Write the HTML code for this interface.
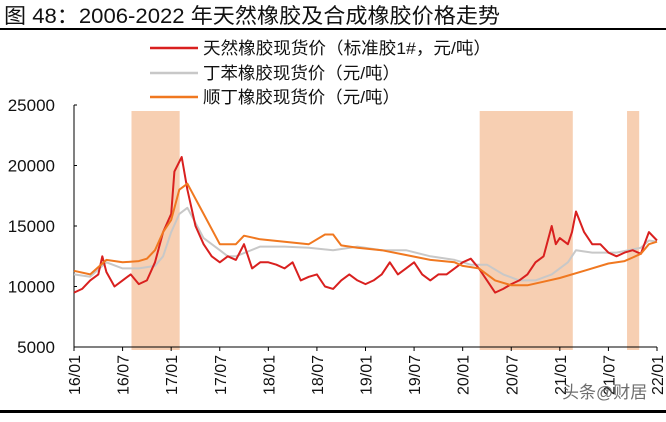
<!DOCTYPE html>
<html><head><meta charset="utf-8"><style>
body{margin:0;background:#fff;width:666px;height:417px;overflow:hidden;font-family:"Liberation Sans","Noto Sans CJK SC",sans-serif}
</style></head><body>
<svg width="666" height="417" xmlns="http://www.w3.org/2000/svg" font-family="Liberation Sans, Noto Sans CJK SC, sans-serif">
<text x="4" y="23" font-size="21" fill="#111" textLength="496" lengthAdjust="spacingAndGlyphs">图 48：2006-2022 年天然橡胶及合成橡胶价格走势</text>
<rect x="0" y="28" width="666" height="2" fill="#000"/>
<rect x="0" y="410" width="666" height="3" fill="#000"/>
<g id="shade"></g>
<g id="axes"></g>
<g id="lines"></g>
<g>
<line x1="150" y1="48" x2="198" y2="48" stroke="#d9201f" stroke-width="2.5"/>
<text x="203" y="54" font-size="17" fill="#111" textLength="288" lengthAdjust="spacingAndGlyphs">天然橡胶现货价（标准胶1#，元/吨）</text>
<line x1="150" y1="73" x2="198" y2="73" stroke="#c8c8c8" stroke-width="2.5"/>
<text x="203" y="79" font-size="17" fill="#111" textLength="197" lengthAdjust="spacingAndGlyphs">丁苯橡胶现货价（元/吨）</text>
<line x1="150" y1="97" x2="198" y2="97" stroke="#f07820" stroke-width="2.5"/>
<text x="203" y="103" font-size="17" fill="#111" textLength="197" lengthAdjust="spacingAndGlyphs">顺丁橡胶现货价（元/吨）</text>
</g>
<text x="562" y="398" font-size="17" fill="#555" opacity="0.85">头条@财居</text>
</svg>
<script>
const yTicks=[5000,10000,15000,20000,25000];
const xTickLabels=["16/01","16/07","17/01","17/07","18/01","18/07","19/01","19/07","20/01","20/07","21/01","21/07","22/01"];
const shadeRanges=[[7.1,13.05],[50.1,61.6],[68.3,69.8]];
const naturalMonths=[0,1,2,3,3.5,4,5,6,7,8,9,10,11,12,12.4,13.3,14,15,16,17,18,19,20,21,22,23,24,25,26,27,28,29,30,31,32,33,34,35,36,37,38,39,40,41,42,43,44,45,46,47,48,49,50,51,52,53,54,55,56,57,58,59,59.5,60,61,61.5,62,63,64,65,66,67,68,69,70,71,72];
const naturalValues=[9500,9800,10500,11000,12500,11200,10000,10500,11000,10200,10500,12000,14500,16000,19500,20700,18000,15000,13500,12500,12000,12500,12200,13500,11500,12000,12000,11800,11500,12000,10500,10800,11000,10000,9800,10500,11000,10500,10200,10500,11000,12000,11000,11500,12000,11000,10500,11000,11000,11500,12000,12300,11500,10500,9500,9800,10200,10500,11000,12000,12500,15000,13500,14000,13500,14500,16200,14500,13500,13500,12800,12500,12800,13000,12700,14500,13800,13600];
const sbrMonths=[0,2,4,6,8,10,11,12,13,14,16,18,19,20,23,26,29,32,35,38,41,44,47,49,51,53,55,57,59,61,62,64,67,70,71,72];
const sbrValues=[11000,10800,12000,11500,11500,11700,12500,14500,16000,16500,14000,13000,12500,12500,13300,13300,13200,13000,13300,13000,13000,12500,12200,11800,11800,11000,10500,10500,11000,12000,13000,12800,12800,13200,13800,13700];
const brMonths=[0,2,4,6,8,9,10,11,12,13,14,16,18,20,21,23,26,29,31,32,33,35,38,41,44,47,48,50,52,54,56,58,60,63,66,68,69,70,71,72];
const brValues=[11300,11000,12200,12000,12100,12300,13000,14500,15500,18000,18500,16000,13500,13500,14200,13900,13700,13500,14300,14300,13400,13200,13000,12600,12200,12000,11700,11500,10500,10100,10100,10400,10700,11300,11900,12100,12400,12700,13500,13700];
const X0=74,X1=657,Y0=347,Y1=105;
const xs=m=>X0+m*(X1-X0)/72;
const ys=v=>Y0-(v-5000)*(Y0-Y1)/20000;
const NS="http://www.w3.org/2000/svg";
function mk(tag,attrs,parent){const e=document.createElementNS(NS,tag);for(const k in attrs)e.setAttribute(k,attrs[k]);parent.appendChild(e);return e;}
const shade=document.getElementById('shade'),axes=document.getElementById('axes'),lines=document.getElementById('lines');
shadeRanges.forEach((r,i)=>{const e=mk('rect',{x:xs(r[0]),y:111,width:xs(r[1])-xs(r[0]),height:239,fill:'#f7cfb2'},shade);

});
let ax=mk('line',{x1:X0,y1:Y1,x2:X0,y2:Y0,stroke:'#000','stroke-width':1},axes);


let bx=mk('line',{x1:X0,y1:Y0,x2:X1,y2:Y0,stroke:'#000','stroke-width':1},axes);


yTicks.forEach(v=>{mk('line',{x1:X0,y1:ys(v),x2:X0+3,y2:ys(v),stroke:'#000'},axes);
const t=mk('text',{x:55,y:ys(v)+6,'text-anchor':'end','font-size':17,fill:'#111'},axes);t.textContent=v;

});
xTickLabels.forEach((l,i)=>{const x=xs(i*6);mk('line',{x1:x,y1:Y0,x2:x,y2:Y0+4,stroke:'#000'},axes);
const t=mk('text',{x:0,y:0,'text-anchor':'end','font-size':16,fill:'#111',transform:`translate(${x+6},${Y0+8}) rotate(-90)`},axes);t.textContent=l;

});
function line(ms,vs,color,name){const d=ms.map((m,i)=>(i?'L':'M')+xs(m).toFixed(1)+','+ys(vs[i]).toFixed(1)).join('');
const p=mk('path',{d,fill:'none',stroke:color,'stroke-width':2,'stroke-linejoin':'round'},lines);

}
line(sbrMonths,sbrValues,'#c8c8c8','series-sbr');
line(naturalMonths,naturalValues,'#d9201f','series-natural-rubber');
line(brMonths,brValues,'#f07820','series-br');
</script>
</body></html>
